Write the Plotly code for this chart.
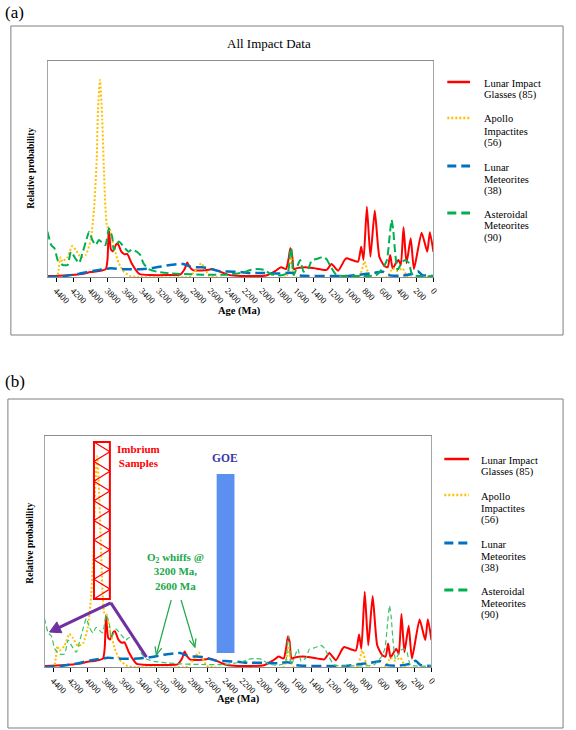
import math
import plotly.graph_objects as go

# ---------------- data (relative probability, arbitrary units) ----------------
RED_AGES = [4500, 4300, 4100, 4000, 3900, 3820, 3800, 3785, 3761, 3738, 3700, 3681, 3641, 3600, 3570,
            3519, 3461, 3427, 3300, 3104, 2954, 2901, 2871, 2841, 2804, 2700, 2619, 2584, 2504, 2400,
            2296, 2100, 1950, 1846, 1777, 1719, 1690, 1669, 1650, 1627, 1592, 1493, 1393, 1246, 1188,
            1111, 1038, 1015, 880, 842, 815, 776, 735, 684, 631, 573, 534, 504, 476, 438, 407, 380,
            349, 314, 265, 227, 138, 72, 42, 0]
RED_VALS = [0.005, 0.008, 0.015, 0.025, 0.03, 0.04, 0.09, 0.245, 0.14, 0.13, 0.165, 0.17, 0.13, 0.115, 0.117,
            0.07, 0.03, 0.015, 0.01, 0.01, 0.012, 0.04, 0.073, 0.05, 0.035, 0.033, 0.037, 0.04, 0.03, 0.012,
            0.006, 0.005, 0.008, 0.03, 0.05, 0.04, 0.09, 0.146, 0.12, 0.04, 0.045, 0.05, 0.045, 0.036, 0.066,
            0.032, 0.085, 0.095, 0.078, 0.154, 0.086, 0.357, 0.103, 0.337, 0.103, 0.056, 0.049, 0.112, 0.044,
            0.07, 0.086, 0.061, 0.252, 0.07, 0.196, 0.04, 0.225, 0.128, 0.227, 0.128]

APOLLO_AGES = [4500, 4390, 4370, 4350, 4327, 4269, 4212, 4169, 4111, 4053, 3996, 3958, 3926, 3911, 3888,
               3862, 3842, 3804, 3780, 3727, 3669, 3611, 3534, 3450, 2850, 2830, 2760, 2708, 2660, 2610,
               1720, 1690, 1660, 1640, 1610, 870, 804, 740, 540, 476, 420, 361, 300, 0]
APOLLO_VALS = [0.0, 0.0, 0.04, 0.1, 0.078, 0.1, 0.157, 0.137, 0.1, 0.112, 0.188, 0.34, 0.6, 0.85, 1.0,
               0.8, 0.54, 0.255, 0.25, 0.154, 0.07, 0.027, 0.005, 0.0, 0.0, 0.005, 0.04, 0.07, 0.04, 0.005,
               0.0, 0.03, 0.1, 0.03, 0.0, 0.0, 0.078, 0.0, 0.0, 0.044, 0.03, 0.044, 0.0, 0.0]

LUNMET_AGES = [4500, 4300, 4150, 3958, 3765, 3611, 3458, 3303, 3073, 2957, 2919, 2850, 2781, 2700, 2631,
               2504, 2400, 2250, 2134, 1973, 1788, 1690, 1630, 1592, 1500, 1000, 900, 703, 588, 530, 400,
               250, 184, 130, 0]
LUNMET_VALS = [0.0, 0.005, 0.015, 0.032, 0.044, 0.039, 0.039, 0.044, 0.061, 0.066, 0.066, 0.055, 0.05, 0.049,
               0.045, 0.03, 0.028, 0.025, 0.02, 0.02, 0.018, 0.022, 0.02, 0.01, 0.006, 0.005, 0.01, 0.02,
               0.027, 0.01, 0.006, 0.015, 0.03, 0.01, 0.005]

AST_AGES = [4500, 4457, 4419, 4381, 4323, 4266, 4227, 4169, 4131, 4093, 4053, 4015, 3977, 3938, 3900, 3862,
            3823, 3785, 3746, 3727, 3669, 3611, 3554, 3516, 3458, 3419, 3381, 3323, 3227, 3073, 2919, 2700,
            2400, 2200, 2134, 2054, 1973, 1900, 1788, 1700, 1669, 1658, 1630, 1554, 1515, 1457, 1419, 1361,
            1284, 1246, 1208, 1130, 900, 669, 591, 542, 515, 488, 469, 446, 418, 361, 323, 284, 245, 0]
AST_VALS = [0.23, 0.162, 0.146, 0.086, 0.061, 0.061, 0.128, 0.09, 0.07, 0.12, 0.18, 0.23, 0.188, 0.162, 0.188,
            0.174, 0.162, 0.247, 0.205, 0.137, 0.18, 0.154, 0.128, 0.14, 0.128, 0.112, 0.07, 0.04, 0.027, 0.019,
            0.015, 0.012, 0.012, 0.025, 0.036, 0.04, 0.036, 0.015, 0.008, 0.02, 0.137, 0.146, 0.01, 0.086, 0.027,
            0.044, 0.086, 0.091, 0.103, 0.09, 0.061, 0.01, 0.005, 0.01, 0.044, 0.086, 0.188, 0.29, 0.24, 0.12,
            0.036, 0.078, 0.086, 0.07, 0.01, 0.005]

TICK_VALS = [4400, 4200, 4000, 3800, 3600, 3400, 3200, 3000, 2800, 2600, 2400, 2200, 2000, 1800, 1600,
             1400, 1200, 1000, 800, 600, 400, 200, 0]
TICK_TEXT = [str(v) for v in TICK_VALS]

LEGEND_LINES = [["Lunar Impact", "Glasses (85)"],
                ["Apollo", "Impactites", "(56)"],
                ["Lunar", "Meteorites", "(38)"],
                ["Asteroidal", "Meteorites", "(90)"]]

# ---------------- layout helpers ----------------
W, H = 576, 730
FONT = "Times New Roman, Liberation Serif, serif"
XMAX_AGE, YMAX = 4500, 1.096
# panel plot boxes in pixels: (left, top, right, bottom)
BOX_A = (48, 61, 438, 277)
BOX_B = (45, 436, 436, 667)


def PX(x):
    return x / W


def PY(y):
    return 1 - y / H


def b_to_pix(age, val):
    l, t, r, b = BOX_B
    return l + (XMAX_AGE - age) / XMAX_AGE * (r - l), b - val / YMAX * (b - t)


RED, YEL, BLU, GRN = "#ff0000", "#ffc000", "#0070c0", "#00b050"
styles = [
    (RED_AGES, RED_VALS, RED, "solid", 2.0),
    (APOLLO_AGES, APOLLO_VALS, YEL, "2px,2px", 2.0),
    (LUNMET_AGES, LUNMET_VALS, BLU, "10px,5px", 2.5),
    (AST_AGES, AST_VALS, GRN, "8px,4px", 2.0),
]
names = [" ".join(l) for l in LEGEND_LINES]

fig = go.Figure()
for panel, (xa, ya) in enumerate([("x", "y"), ("x2", "y2")]):
    for i, (ages, vals, col, dash, wid) in enumerate(styles):
        c, w, d = col, wid, dash
        if panel == 1 and i == 3:
            c, w, d = "#3cc36a", 1.2, "5px,3px"
        fig.add_trace(go.Scatter(x=ages, y=vals, mode="lines", name=names[i], xaxis=xa, yaxis=ya,
                                 line=dict(color=c, dash=d, width=w, shape="spline", smoothing=0.5),
                                 showlegend=False, hoverinfo="skip"))

common_x = dict(range=[XMAX_AGE, 0], tickvals=TICK_VALS, ticktext=TICK_TEXT, tickangle=45, ticks="outside",
                ticklen=4, tickcolor="#000", showline=True, linecolor="#8c8c8c", linewidth=1, mirror=True,
                showgrid=False, zeroline=False, tickfont=dict(family=FONT, size=9, color="#000"))
common_y = dict(range=[0, YMAX], showticklabels=False, ticks="", showline=True, linecolor="#a6a6a6",
                linewidth=1, mirror=True, showgrid=False, zeroline=False)

fig.update_layout(
    width=W, height=H, margin=dict(l=0, r=0, t=0, b=0), paper_bgcolor="white", plot_bgcolor="white",
    font=dict(family=FONT, color="#000"),
    xaxis=dict(domain=[PX(BOX_A[0]), PX(BOX_A[2])], anchor="y", **common_x),
    yaxis=dict(domain=[PY(BOX_A[3]), PY(BOX_A[1])], anchor="x", **common_y),
    xaxis2=dict(domain=[PX(BOX_B[0]), PX(BOX_B[2])], anchor="y2", **common_x),
    yaxis2=dict(domain=[PY(BOX_B[3]), PY(BOX_B[1])], anchor="x2", **common_y),
)

shapes, annos = [], []
# outer frames
for (x0, y0, x1, y1) in [(11, 26, 569, 335), (8, 399, 569, 728)]:
    shapes.append(dict(type="rect", xref="paper", yref="paper", x0=PX(x0), x1=PX(x1), y0=PY(y1), y1=PY(y0),
                       line=dict(color="#7f7f7f", width=1)))


def text(x, y, s, size=11, bold=False, color="#000", xanchor="center", angle=0):
    annos.append(dict(xref="paper", yref="paper", x=PX(x), y=PY(y), text=(f"<b>{s}</b>" if bold else s),
                      showarrow=False, xanchor=xanchor, yanchor="middle", textangle=angle,
                      font=dict(family=FONT, size=size, color=color)))


text(15, 12, "(a)", size=17)
text(15, 381, "(b)", size=17)
text(272, 44, "All Impact Data", size=13)
text(242, 311, "Age (Ma)", size=10.5, bold=True)
text(241, 699, "Age (Ma)", size=10.5, bold=True)
text(31, 168, "Relative probability", size=9.5, bold=True, angle=-90)
text(30, 543, "Relative probability", size=9.5, bold=True, angle=-90)

# legends
leg_cols = [(RED, "solid", 2.5), (YEL, "2px,2px", 2.5), (BLU, "9px,5px", 3), (GRN, "9px,5px", 3)]
for (lx0, lx1, tx, ys) in [(452, 475, 487, [83, 119, 167, 214]), (449, 474, 484, [460, 496, 544, 591])]:
    for (col, dash, wd), y0, lines in zip(leg_cols, ys, LEGEND_LINES):
        shapes.append(dict(type="line", xref="paper", yref="paper", x0=PX(lx0), x1=PX(lx1), y0=PY(y0 - 1),
                           y1=PY(y0 - 1), line=dict(color=col, dash=dash, width=wd)))
        for k, s in enumerate(lines):
            text(tx, y0 + 12 * k, s, size=10.5, xanchor="left")

# ---------------- panel (b) annotations ----------------
IMB_X0, IMB_X1, IMB_Y0, IMB_Y1 = 3925, 3740, 0.323, 1.068
shapes.append(dict(type="rect", xref="x2", yref="y2", x0=IMB_X0, x1=IMB_X1, y0=IMB_Y0, y1=IMB_Y1,
                   line=dict(color=RED, width=2)))
n = 16
pts = []
for k in range(n + 1):
    yy = IMB_Y1 - (IMB_Y1 - IMB_Y0) * k / n
    xx = IMB_X0 if k % 2 == 0 else IMB_X1
    pts.append(f"{xx},{yy:.4f}")
shapes.append(dict(type="path", xref="x2", yref="y2", path="M " + " L ".join(pts),
                   line=dict(color=RED, width=1.2)))

GOE_X0, GOE_X1, GOE_Y0, GOE_Y1 = 2498, 2291, 0.066, 0.916
shapes.append(dict(type="rect", xref="x2", yref="y2", x0=GOE_X0, x1=GOE_X1, y0=GOE_Y0, y1=GOE_Y1,
                   line=dict(width=0), fillcolor="#5b8ff0"))


def arrow(tail, head, color, width, L, hw, filled):
    """arrow between two (age, value) points of panel (b), drawn as paper-space shapes"""
    x0, y0 = b_to_pix(*tail)
    x1, y1 = b_to_pix(*head)
    dx, dy = x1 - x0, y1 - y0
    d = math.hypot(dx, dy)
    ux, uy = dx / d, dy / d
    bx, by = x1 - ux * L, y1 - uy * L
    lx, ly = bx - uy * hw, by + ux * hw
    rx, ry = bx + uy * hw, by - ux * hw
    end = (bx, by) if filled else (x1, y1)
    shapes.append(dict(type="line", xref="paper", yref="paper", x0=PX(x0), y0=PY(y0), x1=PX(end[0]),
                       y1=PY(end[1]), line=dict(color=color, width=width)))
    if filled:
        p = f"M {PX(x1)},{PY(y1)} L {PX(lx)},{PY(ly)} L {PX(rx)},{PY(ry)} Z"
        shapes.append(dict(type="path", xref="paper", yref="paper", path=p, fillcolor=color,
                           line=dict(color=color, width=1)))
    else:
        p = f"M {PX(lx)},{PY(ly)} L {PX(x1)},{PY(y1)} L {PX(rx)},{PY(ry)}"
        shapes.append(dict(type="path", xref="paper", yref="paper", path=p,
                           line=dict(color=color, width=width)))


PURPLE = "#7030a0"
IMB_VERTEX = (3729, 0.304)
shapes.append(dict(type="line", xref="x2", yref="y2", x0=IMB_VERTEX[0], y0=IMB_VERTEX[1], x1=3315, y1=0.047,
                   line=dict(color=PURPLE, width=3)))
arrow(IMB_VERTEX, (4442, 0.166), PURPLE, 3, 11, 6, True)

GREEN_T = "#20a84a"
arrow((3027, 0.318), (3200, 0.057), GREEN_T, 1.2, 8, 3.5, False)
arrow((2912, 0.318), (2751, 0.095), GREEN_T, 1.2, 8, 3.5, False)

annos.append(dict(xref="x2", yref="y2", x=3407, y=0.999, text="<b>Imbrium<br>Samples</b>", showarrow=False,
                  font=dict(family=FONT, size=11, color=RED), align="center"))
annos.append(dict(xref="x2", yref="y2", x=2405, y=0.992, text="<b>GOE</b>", showarrow=False,
                  font=dict(family=FONT, size=11.5, color="#3838a8")))
annos.append(dict(xref="x2", yref="y2", x=2981, y=0.451, text="<b>O<sub>2</sub> whiffs @<br>3200 Ma,<br>2600 Ma</b>",
                  showarrow=False, font=dict(family=FONT, size=11, color=GREEN_T), align="center"))

fig.update_layout(shapes=shapes, annotations=annos)
fig.write_html("out.html", config={"displayModeBar": False},
               post_script="document.body.style.margin='0px';document.body.style.overflow='hidden';")
